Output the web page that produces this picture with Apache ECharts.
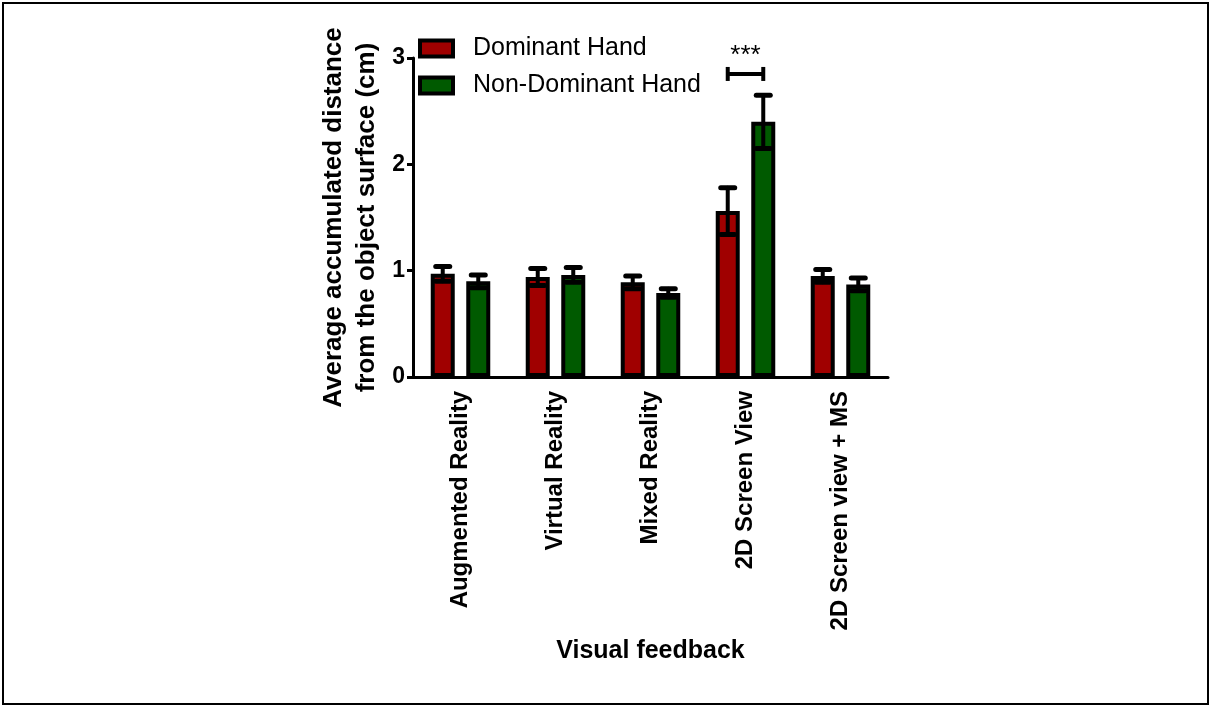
<!DOCTYPE html>
<html>
<head>
<meta charset="utf-8">
<script src="https://cdn.jsdelivr.net/npm/echarts@6/dist/echarts.min.js"></script>
<style>
  html, body { margin: 0; padding: 0; background: #fff; }
  #chart { width: 1212px; height: 707px; }
</style>
</head>
<body>
<div id="chart"></div>
<script>
// data
const categories = ['Augmented Reality', 'Virtual Reality', 'Mixed Reality', '2D Screen View', '2D Screen view + MS'];
const seriesNames = ['Dominant Hand', 'Non-Dominant Hand'];
const dominantMean = [0.97, 0.94, 0.89, 1.56, 0.95];
const dominantSem = [0.07, 0.08, 0.06, 0.22, 0.06];
const nonDominantMean = [0.90, 0.96, 0.79, 2.40, 0.87];
const nonDominantSem = [0.06, 0.07, 0.04, 0.25, 0.06];
const yTicks = [0, 1, 2, 3];
// significance bracket between the two bars of one category
const sigCategory = 3;
const sigLevel = 2.85;
const sigLabel = '***';

const FONT = 'Arial, "Liberation Sans", sans-serif';
const colors = ['#A00000', '#005A00'];
const BAR_W = 24;
const BAR_GAP = 0.48;
const HALF_SPACING = BAR_W * (1 + BAR_GAP) / 2; // bar centre offset from category centre

const chart = echarts.init(document.getElementById('chart'));

function errorBarRenderer(offset) {
  return function (params, api) {
    const i = api.value(0);
    const m = api.value(1);
    const e = api.value(2);
    const x = api.coord([i, 0])[0] + offset;
    const yTop = api.coord([i, m + e])[1];
    const yBot = api.coord([i, m - e])[1];
    const cap = 7;
    const style = { stroke: '#000', lineWidth: 4, lineCap: 'round' };
    const capStyle = { stroke: '#000', lineWidth: 5, lineCap: 'round' };
    return {
      type: 'group',
      children: [
        { type: 'line', shape: { x1: x, y1: yTop, x2: x, y2: yBot }, style },
        { type: 'line', shape: { x1: x - cap, y1: yTop, x2: x + cap, y2: yTop }, style: capStyle },
        { type: 'line', shape: { x1: x - cap, y1: yBot, x2: x + cap, y2: yBot }, style: capStyle }
      ]
    };
  };
}

function bracketRenderer(params, api) {
  const i = api.value(0);
  const cx = api.coord([i, 0])[0];
  const y = api.coord([i, api.value(1)])[1];
  const x1 = cx - HALF_SPACING;
  const x2 = cx + HALF_SPACING;
  const style = { stroke: '#000', lineWidth: 4 };
  return {
    type: 'group',
    children: [
      { type: 'line', shape: { x1: x1, y1: y, x2: x2, y2: y }, style },
      { type: 'line', shape: { x1: x1, y1: y - 7, x2: x1, y2: y + 7 }, style },
      { type: 'line', shape: { x1: x2, y1: y - 7, x2: x2, y2: y + 7 }, style },
      {
        type: 'text',
        style: {
          x: cx, y: y - 5, text: sigLabel,
          font: '26px ' + FONT, fill: '#000',
          textAlign: 'center', textVerticalAlign: 'bottom'
        }
      }
    ]
  };
}

const option = {
  backgroundColor: '#fff',
  animation: false,
  color: colors,
  graphic: [{
    type: 'rect',
    shape: { x: 3, y: 3, width: 1205, height: 701 },
    style: { fill: 'none', stroke: '#000', lineWidth: 2 },
    silent: true
  }],
  legend: {
    data: seriesNames,
    orient: 'vertical',
    left: 413,
    top: 31,
    itemWidth: 33,
    itemHeight: 16,
    itemGap: 12,
    icon: 'rect',
    itemStyle: { borderColor: '#000', borderWidth: 4 },
    textStyle: {
      fontFamily: FONT, fontSize: 25, color: '#000', lineHeight: 24,
      padding: [0, 0, 0, 15]
    }
  },
  grid: { left: 413, right: 324, top: 58, bottom: 330, containLabel: false },
  xAxis: {
    type: 'category',
    data: categories,
    name: 'Visual feedback',
    nameLocation: 'middle',
    nameGap: 262,
    nameTextStyle: { fontFamily: FONT, fontSize: 25, fontWeight: 'bold', color: '#000' },
    axisLine: { lineStyle: { color: '#000', width: 3 } },
    axisTick: { alignWithLabel: true, length: 6, lineStyle: { color: '#000', width: 3 } },
    axisLabel: {
      rotate: 90, margin: 14, interval: 0,
      fontFamily: FONT, fontSize: 24, fontWeight: 'bold', color: '#000'
    }
  },
  yAxis: {
    type: 'value',
    min: yTicks[0],
    max: yTicks[yTicks.length - 1],
    interval: 1,
    name: 'Average accumulated distance\nfrom the object surface (cm)',
    nameLocation: 'middle',
    nameGap: 30,
    nameTextStyle: { fontFamily: FONT, fontSize: 26, fontWeight: 'bold', color: '#000', lineHeight: 33 },
    splitLine: { show: false },
    axisLine: { show: true, lineStyle: { color: '#000', width: 3 } },
    axisTick: { show: true, length: 6, lineStyle: { color: '#000', width: 3 } },
    axisLabel: { margin: 8, fontFamily: FONT, fontSize: 23, fontWeight: 'bold', color: '#000' }
  },
  series: [
    {
      name: seriesNames[0],
      type: 'bar',
      data: dominantMean,
      barWidth: BAR_W,
      barGap: (BAR_GAP * 100) + '%',
      itemStyle: { color: colors[0], borderColor: '#000', borderWidth: 4 }
    },
    {
      name: seriesNames[1],
      type: 'bar',
      data: nonDominantMean,
      barWidth: BAR_W,
      barGap: (BAR_GAP * 100) + '%',
      itemStyle: { color: colors[1], borderColor: '#000', borderWidth: 4 }
    },
    {
      type: 'custom',
      name: 'errDominant',
      renderItem: errorBarRenderer(-HALF_SPACING),
      data: dominantMean.map((m, i) => [i, m, dominantSem[i]]),
      encode: { x: 0, y: [1] },
      z: 5
    },
    {
      type: 'custom',
      name: 'errNonDominant',
      renderItem: errorBarRenderer(HALF_SPACING),
      data: nonDominantMean.map((m, i) => [i, m, nonDominantSem[i]]),
      encode: { x: 0, y: [1] },
      z: 5
    },
    {
      type: 'custom',
      name: 'significance',
      renderItem: bracketRenderer,
      data: [[sigCategory, sigLevel]],
      encode: { x: 0, y: 1 },
      clip: false,
      z: 5
    }
  ]
};

chart.setOption(option);
</script>
</body>
</html>
